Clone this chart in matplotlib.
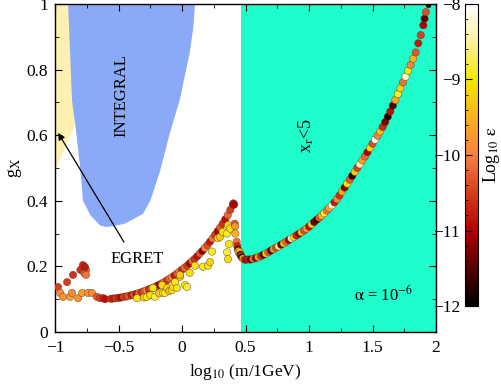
import numpy as np
import matplotlib
matplotlib.use("Agg")
import matplotlib.pyplot as plt
from matplotlib.colors import LinearSegmentedColormap
from matplotlib.ticker import MultipleLocator

plt.rcParams['font.family'] = ['Liberation Serif', 'DejaVu Serif']
plt.rcParams['mathtext.fontset'] = 'stix'

# excluded regions (log10 m, g_X)
egret_x = [-1.0, -0.895, -0.87, -0.845, -0.99, -1.0]
egret_y = [1.0, 1.0, 0.8, 0.63, 0.5, 0.5]

integral_x = [-0.897, -0.866, -0.835, -0.80, -0.78, -0.72, -0.646, -0.60,
              -0.55, -0.45, -0.307, -0.25, -0.173, -0.10, -0.016, 0.06, 0.09, 0.102]
integral_y = [1.0, 0.705, 0.615, 0.494, 0.40, 0.355, 0.325, 0.32,
              0.322, 0.33, 0.36, 0.40, 0.49, 0.60, 0.71, 0.85, 0.93, 1.0]

xr_left = 0.465

# right branch (inside x_r<5 region)
right_x = [0.455, 0.46, 0.465, 0.47, 0.48, 0.49, 0.50, 0.52, 0.54, 0.56, 0.58, 0.60,
           0.62, 0.64, 0.66, 0.68, 0.70, 0.72, 0.74, 0.76, 0.78, 0.80, 0.82, 0.84,
           0.86, 0.88, 0.90, 0.92, 0.94, 0.96, 0.98, 1.00, 1.02, 1.04, 1.06, 1.08,
           1.10, 1.12, 1.14, 1.16, 1.18, 1.20, 1.22, 1.24, 1.26, 1.28, 1.30, 1.32,
           1.34, 1.36, 1.38, 1.40, 1.42, 1.44, 1.46, 1.48, 1.50, 1.52, 1.54, 1.56,
           1.58, 1.60, 1.62, 1.64, 1.66, 1.68, 1.70, 1.72, 1.74, 1.76, 1.78, 1.80,
           1.82, 1.84, 1.86, 1.88, 1.90, 1.91, 1.92]
right_y = [0.243, 0.236, 0.232, 0.228, 0.224, 0.222, 0.220, 0.221, 0.221, 0.223, 0.225, 0.228,
           0.231, 0.235, 0.239, 0.243, 0.248, 0.252, 0.257, 0.261, 0.266, 0.270, 0.275, 0.280,
           0.285, 0.289, 0.294, 0.299, 0.304, 0.309, 0.315, 0.321, 0.328, 0.335, 0.342, 0.348,
           0.355, 0.362, 0.370, 0.378, 0.386, 0.395, 0.405, 0.416, 0.428, 0.440, 0.452, 0.464,
           0.476, 0.488, 0.500, 0.511, 0.523, 0.535, 0.548, 0.561, 0.574, 0.586, 0.598, 0.611,
           0.625, 0.640, 0.656, 0.672, 0.690, 0.707, 0.725, 0.743, 0.761, 0.778, 0.796, 0.814,
           0.833, 0.852, 0.880, 0.905, 0.935, 0.955, 0.975]
right_eps = [-9.2, -11.5, -10.5, -11.8, -9.0, -10.2, -11.0, -10.8, -11.5, -10.1, -11.2, -9.5,
             -10.6, -11.4, -9.2, -10.3, -11.6, -9.8, -10.4, -8.6, -11.3, -9.4, -10.2, -11.1,
             -8.3, -9.1, -10.7, -11.2, -9.3, -10.4, -9.7, -10.9, -9.2, -11.4, -11.6, -10.3,
             -9.4, -8.8, -10.1, -9.6, -8.2, -10.8, -9.9, -10.6, -9.5, -11.2, -9.0, -10.3,
             -11.7, -9.3, -10.5, -8.4, -9.7, -10.2, -11.0, -9.1, -10.4, -8.1, -10.0, -9.4,
             -10.7, -11.3, -11.8, -10.9, -11.5, -9.6, -8.9, -9.2, -10.1, -8.3, -9.0, -10.0,
             -9.5, -10.3, -10.8, -10.5, -11.0, -11.4, -10.4]

# descending branch left of the region
desc_x = [0.405, 0.41, 0.415, 0.418, 0.42, 0.43, 0.435, 0.44, 0.445, 0.45]
desc_y = [0.392, 0.388, 0.330, 0.322, 0.300, 0.275, 0.262, 0.252, 0.246, 0.240]
desc_eps = [-10.8, -11.0, -10.3, -9.8, -9.5, -10.1, -10.7, -11.3, -9.1, -8.7]

# rising branch
up_x = [-0.56, -0.54, -0.52, -0.50, -0.48, -0.46, -0.44, -0.42, -0.40, -0.38, -0.36, -0.34,
        -0.32, -0.30, -0.28, -0.26, -0.24, -0.22, -0.20, -0.18, -0.16, -0.14, -0.12, -0.10,
        -0.08, -0.06, -0.04, -0.02, 0.00, 0.02, 0.04, 0.06, 0.08, 0.10, 0.12, 0.14,
        0.16, 0.18, 0.20, 0.22, 0.24, 0.26, 0.28, 0.30, 0.32, 0.34, 0.36, 0.38, 0.40]
up_y = [0.101, 0.102, 0.103, 0.104, 0.105, 0.107, 0.108, 0.110, 0.112, 0.114, 0.116, 0.119,
        0.121, 0.124, 0.127, 0.130, 0.133, 0.136, 0.140, 0.144, 0.148, 0.152, 0.157, 0.162,
        0.167, 0.172, 0.178, 0.184, 0.190, 0.196, 0.202, 0.209, 0.216, 0.223, 0.231, 0.239,
        0.247, 0.256, 0.265, 0.275, 0.285, 0.296, 0.307, 0.318, 0.330, 0.343, 0.356, 0.372, 0.388]
up_eps = [-10.6, -10.8, -10.5, -10.7, -11.0, -10.4, -10.6, -10.2, -10.8, -10.3, -10.9, -10.1,
          -10.6, -10.3, -10.0, -10.7, -10.2, -9.8, -10.5, -11.1, -10.4, -10.0, -10.6, -10.2,
          -9.9, -10.8, -10.3, -10.0, -10.7, -10.1, -10.5, -11.0, -10.2, -10.6, -10.9, -10.3,
          -11.2, -10.0, -10.4, -10.8, -10.1, -10.5, -11.0, -10.3, -10.6, -10.9, -10.2, -10.5, -10.8]

# scattered yellow points
yel_x = [-0.354, -0.30, -0.276, -0.25, -0.228, -0.213, -0.18, -0.157, -0.15, -0.134, -0.118, -0.10,
         -0.08, -0.071, -0.055, -0.04, -0.016, -0.016, 0.024, 0.039, 0.06, 0.102, 0.165, 0.205,
         0.22, 0.236, 0.283, 0.30, 0.32, 0.354, 0.362, 0.37, 0.354, 0.362, 0.38]
yel_y = [0.103, 0.105, 0.107, 0.112, 0.134, 0.107, 0.118, 0.143, 0.119, 0.119, 0.134, 0.125,
         0.128, 0.137, 0.152, 0.134, 0.168, 0.174, 0.143, 0.137, 0.180, 0.202, 0.199, 0.202,
         0.213, 0.245, 0.286, 0.290, 0.305, 0.300, 0.326, 0.268, 0.243, 0.222, 0.315]
yel_eps = [-9.0, -9.2, -8.9, -9.1, -9.0, -8.8, -9.3, -9.1, -9.0, -8.9, -9.2, -9.4,
           -9.0, -9.1, -8.9, -9.0, -9.2, -9.3, -9.0, -8.8, -9.1, -9.0, -8.9, -9.0,
           -9.2, -8.9, -9.1, -9.3, -9.0, -8.9, -9.2, -9.0, -8.8, -9.1, -9.0]

# low-mass cluster
low_x = [-0.976, -0.96, -0.937, -0.905, -0.882, -0.866, -0.858, -0.818, -0.80, -0.787, -0.78,
         -0.77, -0.756, -0.764, -0.756, -0.74, -0.71, -0.67, -0.646, -0.62, -0.606]
low_y = [0.137, 0.119, 0.107, 0.152, 0.107, 0.119, 0.174, 0.103, 0.189, 0.119, 0.204,
         0.180, 0.189, 0.198, 0.174, 0.119, 0.119, 0.107, 0.103, 0.103, 0.100]
low_eps = [-10.5, -9.9, -9.8, -10.5, -9.7, -9.9, -10.6, -9.8, -10.6, -9.7, -10.7,
           -10.3, -10.2, -10.8, -10.1, -9.8, -9.9, -10.3, -10.5, -10.7, -10.9]

top_x = [1.94]
top_y = [0.997]
top_eps = [-12.0]

cmap = LinearSegmentedColormap.from_list(
    "eps", [(0.0, "#000000"), (0.12, "#500000"), (0.25, "#b40000"), (0.38, "#d84020"),
            (0.5, "#f88040"), (0.62, "#f8b020"), (0.75, "#f5e800"), (0.88, "#fcf0a0"),
            (1.0, "#ffffff")])

fig = plt.figure(figsize=(5.01, 3.91), dpi=100)
ax = fig.add_axes([0.1098, 0.151, 0.7605, 0.839])

ax.fill(egret_x, egret_y, color="#fdf0b0", lw=0, zorder=1)
ax.fill(integral_x, integral_y, color="#8aaaf8", lw=0, zorder=1)
ax.axvspan(xr_left, 2.0, color="#1ffccc", lw=0, zorder=1)

xs = low_x + up_x + yel_x + desc_x + right_x
ys = low_y + up_y + yel_y + desc_y + right_y
es = low_eps + up_eps + yel_eps + desc_eps + right_eps
sc = ax.scatter(xs, ys, c=es, cmap=cmap, vmin=-12, vmax=-8, s=28,
                edgecolors=(0.35, 0.2, 0.1, 0.7), linewidths=0.4, zorder=3)
ax.scatter(top_x, top_y, c=top_eps, cmap=cmap, vmin=-12, vmax=-8, s=12,
           edgecolors="k", linewidths=0.3, zorder=3)

ax.text(-0.48, 0.72, "INTEGRAL", rotation=90, ha="center", va="center", fontsize=12)
ax.text(0.98, 0.60, r"x$_\mathrm{r}$<5", rotation=90, ha="center", va="center", fontsize=13)
ax.text(-0.354, 0.222, "EGRET", ha="center", va="center", fontsize=12)
ax.text(1.59, 0.113, r"$\mathrm{\alpha}$ = 10$^{\mathrm{-6}}$", ha="center", va="center", fontsize=12)
ax.annotate("", xy=(-0.976, 0.607), xytext=(-0.457, 0.274),
            arrowprops=dict(arrowstyle="-|>", color="k", lw=0.9, mutation_scale=10,
                            shrinkA=0, shrinkB=0))

ax.set_xlim(-1, 2)
ax.set_ylim(0, 1)
ax.xaxis.set_minor_locator(MultipleLocator(0.25))
ax.yaxis.set_minor_locator(MultipleLocator(0.1))
ax.set_xticks([-1, -0.5, 0, 0.5, 1, 1.5, 2])
ax.set_xticklabels(["\u22121", "\u22120.5", "0", "0.5", "1", "1.5", "2"])
ax.set_yticks([0, 0.2, 0.4, 0.6, 0.8, 1])
ax.set_yticklabels(["0", "0.2", "0.4", "0.6", "0.8", "1"])
ax.tick_params(which="both", direction="in", top=True, right=True, labelsize=12.5)
ax.tick_params(axis="x", pad=6)
ax.tick_params(axis="y", pad=5)
ax.tick_params(which="major", length=5, width=0.8)
ax.tick_params(which="minor", length=3, width=0.6)
ax.set_xlabel(r"log$_{\mathrm{10}}$ (m/1GeV)", fontsize=12.5, labelpad=4)
ax.set_ylabel(r"g$_{\mathrm{X}}$", fontsize=13, labelpad=2)
for sp in ax.spines.values():
    sp.set_linewidth(1.0)

cax = fig.add_axes([0.928, 0.217, 0.026, 0.773])
cb = fig.colorbar(sc, cax=cax)
cb.set_ticks([-12, -11, -10, -9, -8])
cb.set_ticklabels(["\u221212", "\u221211", "\u221210", "\u22129", "\u22128"])
cax.yaxis.set_minor_locator(MultipleLocator(0.2))
cax.yaxis.set_ticks_position("left")
cax.yaxis.set_label_position("right")
cax.tick_params(which="both", direction="in", labelsize=12.5)
cax.tick_params(which="major", length=5)
cax.tick_params(which="minor", length=2.5)
cb.set_label(r"Log$_{\mathrm{10}}$ $\mathrm{\epsilon}$", fontsize=13, labelpad=2)
cb.outline.set_linewidth(0.8)

fig.savefig("out.png", dpi=100)
